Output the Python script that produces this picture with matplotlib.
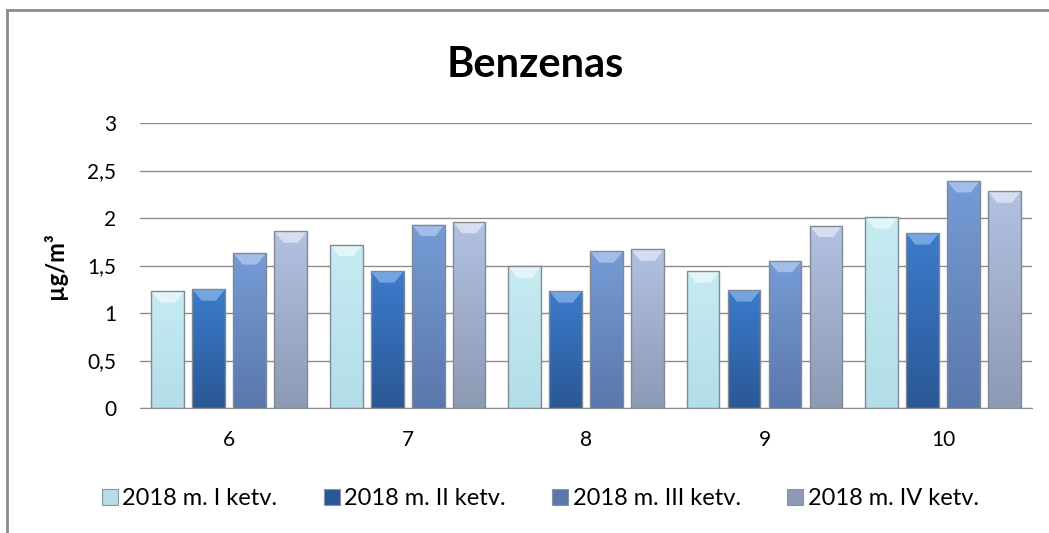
"""
Benzenas: quarterly benzene concentrations per station, 2018.
"""
import matplotlib.pyplot as plt
import numpy as np
from matplotlib.colors import LinearSegmentedColormap
from matplotlib.patches import Polygon, Rectangle

plt.rcParams['font.family'] = ['Lato', 'DejaVu Sans']

categories = ["6", "7", "8", "9", "10"]
series_names = ["2018 m. I ketv.", "2018 m. II ketv.", "2018 m. III ketv.", "2018 m. IV ketv."]
q1 = [1.23, 1.72, 1.49, 1.44, 2.01]
q2 = [1.25, 1.44, 1.23, 1.24, 1.84]
q3 = [1.63, 1.93, 1.65, 1.55, 2.39]
q4 = [1.86, 1.96, 1.67, 1.92, 2.28]
yticks = [0, 0.5, 1, 1.5, 2, 2.5, 3]
ytick_labels = ["0", "0,5", "1", "1,5", "2", "2,5", "3"]

# (top colour, bottom colour, bevel highlight)
palette = [
    ("#C6EBF2", "#B3DDE8", "#F2FBFD"),
    ("#3C7BCB", "#2A5896", "#8DB8EC"),
    ("#769BD5", "#5A78AC", "#B6CDF0"),
    ("#B2C1E1", "#8D9AB4", "#E6ECF8"),
]


def draw_bevel_bar(ax, patch, top, bottom, light):
    """Paint one bar with a vertical gradient and a light bevel cap."""
    x, y = patch.get_x(), patch.get_y()
    w, h = patch.get_width(), patch.get_height()
    cmap = LinearSegmentedColormap.from_list("g", [bottom, top])
    grad = np.linspace(0, 1, 64).reshape(-1, 1)
    im = ax.imshow(grad, cmap=cmap, origin="lower", aspect="auto",
                   extent=(x, x + w, y, y + h), zorder=2)
    im.set_clip_path(patch)
    bev = 0.12
    cap = Polygon([(x, y + h), (x + w, y + h), (x + w * 0.72, y + h - bev),
                   (x + w * 0.28, y + h - bev)], closed=True,
                  facecolor=light, edgecolor="none", alpha=0.7, zorder=3)
    ax.add_patch(cap)
    ax.add_patch(Rectangle((x, y), w, h, facecolor="none",
                           edgecolor="#7f8a95", linewidth=1.0, zorder=4))


fig = plt.figure(figsize=(10.49, 5.33), dpi=100)
ax = fig.add_axes([0.1335, 0.2345, 0.8505, 0.5347])

all_series = [q1, q2, q3, q4]
x = np.arange(len(categories))
step = 0.2296
width = 0.183
handles = []
for i, (vals, name, cols) in enumerate(zip(all_series, series_names, palette)):
    offs = (i - 1.5) * step
    bars = ax.bar(x + offs, vals, width, color="none", edgecolor="none",
                  label=name, zorder=2)
    for p in bars:
        draw_bevel_bar(ax, p, *cols)
    handles.append(Rectangle((0, 0), 1, 1, facecolor=cols[1],
                             edgecolor="#8a949e", linewidth=0.8))

ax.set_xlim(-0.5, len(categories) - 0.5)
ax.set_ylim(0, 3)
ax.set_yticks(yticks)
ax.set_yticklabels(ytick_labels)
ax.set_xticks(x)
ax.set_xticklabels(categories)
ax.yaxis.grid(True, color="#8c8c8c", linewidth=1.0, zorder=0)
ax.set_axisbelow(True)
for s in ["top", "right", "left"]:
    ax.spines[s].set_visible(False)
ax.spines["bottom"].set_color("#8c8c8c")
ax.tick_params(axis="y", length=0, labelsize=15, pad=17)
ax.tick_params(axis="x", length=0, labelsize=15, pad=16)
ax.set_ylabel("µg/m³", fontsize=17, fontweight="bold")
ax.yaxis.set_label_coords(-0.082, 0.5)

fig.text(0.51, 0.878, "Benzenas", ha="center", va="center",
         fontsize=30, fontweight="bold")

fig.legend(handles, series_names, loc="center", bbox_to_anchor=(0.515, 0.064),
           ncol=4, frameon=False, fontsize=17, handlelength=0.68,
           handleheight=0.68, handletextpad=0.2, columnspacing=1.95)

# chart area border (top and left visible in the reference)
fig.add_artist(plt.Line2D([0.0067, 1.0], [0.981, 0.981], transform=fig.transFigure,
                          color="#8c8c8c", linewidth=2.0))
fig.add_artist(plt.Line2D([0.0067, 0.0067], [0.0, 0.981], transform=fig.transFigure,
                          color="#8c8c8c", linewidth=2.0))

fig.savefig("out.png", dpi=100)
